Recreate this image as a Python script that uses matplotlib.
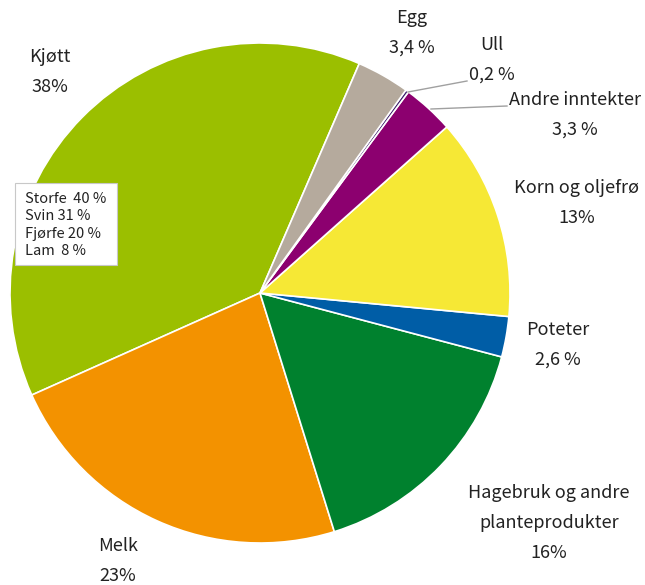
import matplotlib.pyplot as plt
from matplotlib.patches import Rectangle

plt.rcParams['font.family'] = ['Noto Sans CJK JP', 'DejaVu Sans']

# data (counterclockwise from Kjøtt)
names = ['Kjøtt', 'Melk', 'Hagebruk og andre\nplanteprodukter', 'Poteter',
         'Korn og oljefrø', 'Andre inntekter', 'Ull', 'Egg']
values = [38, 23, 16, 2.6, 13, 3.3, 0.2, 3.4]
pct_txt = ['38%', '23%', '16%', '2,6 %', '13%', '3,3 %', '0,2 %', '3,4 %']
colors = ['#9bbf00', '#f39200', '#00812e', '#005da6', '#f6e835',
          '#8c006f', '#3c1f6b', '#b5aa9d']

sub_names = ['Storfe  40 %', 'Svin 31 %', 'Fjørfe 20 %', 'Lam  8 %']

W, H = 645, 585
fig = plt.figure(figsize=(W / 100, H / 100), dpi=100)
ax = fig.add_axes([0, 0, 1, 1])

cx, cy, R = 260, H - 293, 250
ax.pie(values, colors=colors, startangle=66.6, counterclock=True,
       center=(cx, cy), radius=R, frame=True,
       wedgeprops=dict(edgecolor='white', linewidth=1.2))
ax.set_xlim(0, W)
ax.set_ylim(0, H)
ax.axis('off')

# label positions in image pixels (x, y of first line)
pos = {
    'Kjøtt': (50, 57),
    'Melk': (118, 546),
    'Hagebruk og andre\nplanteprodukter': (549, 493),
    'Poteter': (558, 330),
    'Korn og oljefrø': (577, 188),
    'Andre inntekter': (575, 100),
    'Ull': (492, 45),
    'Egg': (412, 18),
}
step = 30
for n, p in zip(names, pct_txt):
    x, y = pos[n]
    lines = n.split('\n') + [p]
    for i, ln in enumerate(lines):
        ax.text(x, H - (y + i * step), ln, ha='center', va='center',
                fontsize=13, color='#222222')

# leader lines
ax.plot([408, 467], [H - 92, H - 81], color='#a0a0a0', lw=1)
ax.plot([431, 507], [H - 109, H - 106], color='#a0a0a0', lw=1)

# meat breakdown box
ax.add_patch(Rectangle((15, H - 265), 102, 82, facecolor='white',
                       edgecolor='#c8c8c8', lw=0.8, zorder=5))
for i, s in enumerate(sub_names):
    ax.text(25, H - (199 + i * 17.3), s, ha='left', va='center',
            fontsize=10.5, color='#222222', zorder=6)

fig.savefig('out.png', dpi=100)
